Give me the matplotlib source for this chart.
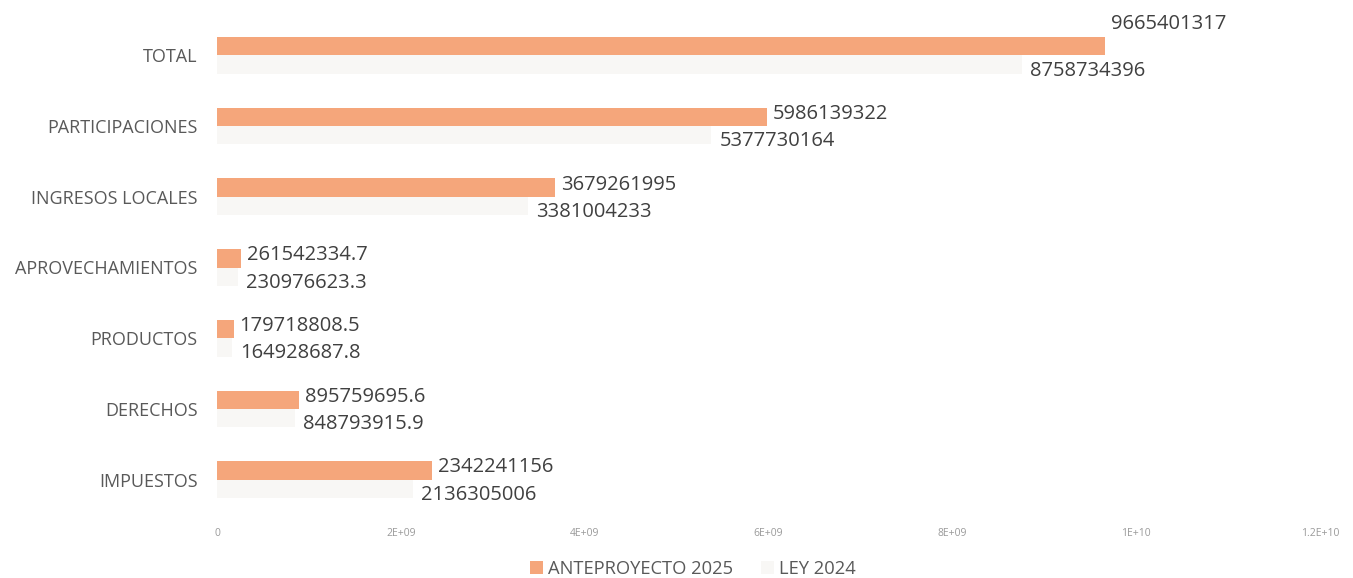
import matplotlib
matplotlib.use("Agg")
import matplotlib.pyplot as plt
import numpy as np

categories = ["IMPUESTOS", "DERECHOS", "PRODUCTOS", "APROVECHAMIENTOS",
              "INGRESOS LOCALES", "PARTICIPACIONES", "TOTAL"]
anteproyecto_2025 = [2342241156, 895759695.6, 179718808.5, 261542334.7,
                     3679261995, 5986139322, 9665401317]
ley_2024 = [2136305006, 848793915.9, 164928687.8, 230976623.3,
            3381004233, 5377730164, 8758734396]
label_2025 = ["2342241156", "895759695.6", "179718808.5", "261542334.7",
              "3679261995", "5986139322", "9665401317"]
label_2024 = ["2136305006", "848793915.9", "164928687.8", "230976623.3",
              "3381004233", "5377730164", "8758734396"]
xticks = [0, 2e9, 4e9, 6e9, 8e9, 1e10, 1.2e10]
xtick_labels = ["0", "2E+09", "4E+09", "6E+09", "8E+09", "1E+10", "1.2E+10"]
series_names = ["ANTEPROYECTO 2025", "LEY 2024"]

ORANGE = "#F5A67B"
FAINT = "#F8F7F5"
TEXT = "#404040"
CAT = "#595959"
FONT = ["Open Sans", "DejaVu Sans"]

plt.rcParams["font.family"] = FONT

fig = plt.figure(figsize=(13.53, 5.78), dpi=100)
ax = fig.add_axes([217/1353, 1-515/578, (1320-217)/1353, (515-20)/578])

y = np.arange(len(categories))
h = 0.26
b1 = ax.barh(y + h/2, anteproyecto_2025, height=h, color=ORANGE, label=series_names[0])
b2 = ax.barh(y - h/2, ley_2024, height=h, color=FAINT, label=series_names[1])

ax.set_xlim(0, 1.2e10)
ax.set_ylim(-0.5, len(categories) - 0.5)
ax.set_xticks(xticks)
ax.set_xticklabels(xtick_labels, fontsize=7.5, color="#9a9a9a")
ax.set_yticks(y)
ax.set_yticklabels(categories, fontsize=13, color=CAT)
ax.tick_params(axis="both", length=0)
ax.tick_params(axis="x", pad=9)
ax.tick_params(axis="y", pad=14)
for s in ax.spines.values():
    s.set_visible(False)

for i in range(len(categories)):
    dy1 = 22 if categories[i] == "TOTAL" else 3
    ax.annotate(label_2025[i], (anteproyecto_2025[i], y[i] + h/2),
                xytext=(6, dy1), textcoords="offset pixels",
                ha="left", va="center", fontsize=14.5, color=TEXT)
    ax.annotate(label_2024[i], (ley_2024[i], y[i] - h/2),
                xytext=(8, -6), textcoords="offset pixels",
                ha="left", va="center", fontsize=14.5, color=TEXT)

leg = fig.legend(handles=[b1, b2], labels=series_names, loc="lower center",
                 bbox_to_anchor=(0.512, -0.028), ncol=2, frameon=False,
                 fontsize=13.2, labelcolor=CAT, handlelength=0.7,
                 handleheight=0.7, handletextpad=0.3, columnspacing=1.5)

fig.savefig("out.png", dpi=100, facecolor="white")
